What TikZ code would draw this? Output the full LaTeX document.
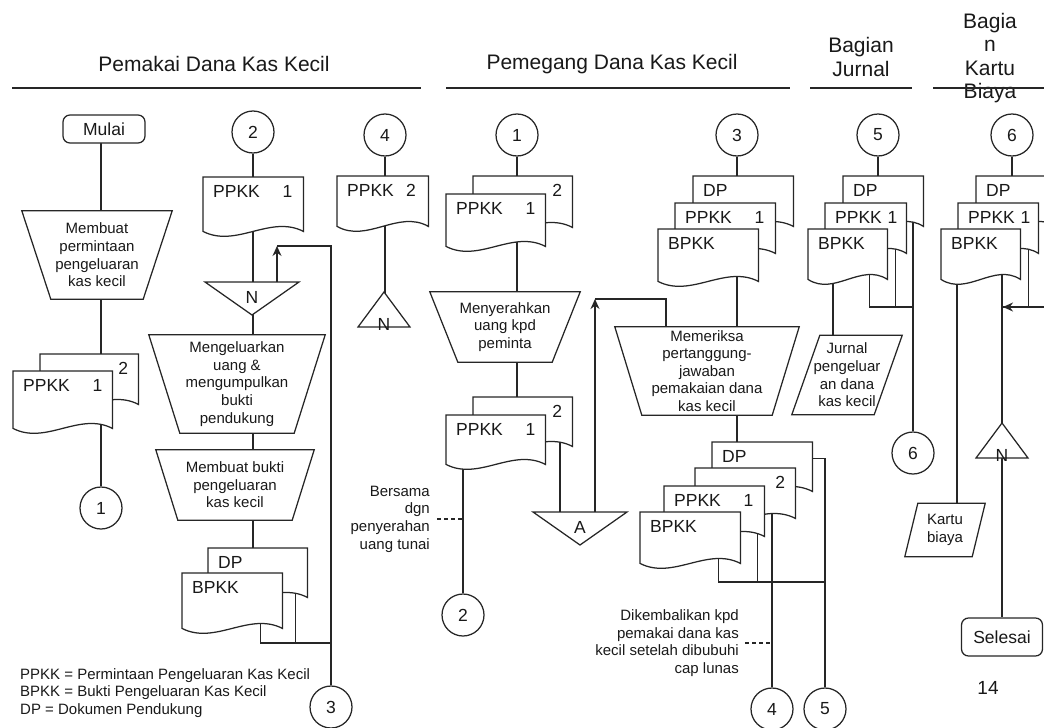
\documentclass[tikz,border=0pt]{standalone}
\usepackage{fontspec}
\setmainfont{Liberation Sans}
\usetikzlibrary{arrows.meta, calc, backgrounds}

\newcommand\fbody{\fontsize{15}{17.6}\selectfont}
\newcommand\fnote{\fontsize{15}{17.6}\selectfont}
\newcommand\fdoc{\fontsize{17.5}{20}\selectfont}
\newcommand\fhead{\fontsize{21}{23.5}\selectfont}

\begin{document}
\begin{tikzpicture}[
  x=1pt, y=-1pt, text=black!90,
  shapeline/.style={draw=black!85, line width=1.25pt, fill=white},
  wire/.style={draw=black!85, line width=1.25pt},
  arr/.style={wire, -{Stealth[length=10pt, width=9pt]}},
  guide/.style={wire, dash pattern=on 4pt off 3pt},
  headrule/.style={draw=black!85, line width=1.8pt},
  head/.style={font=\fhead, align=center, inner sep=0pt},
  note/.style={font=\fnote, align=right, anchor=east, inner sep=0pt},
  legend/.style={font=\fbody, align=left, anchor=west, inner sep=0pt},
  conn/.style={circle, draw=black!85, line width=1.25pt, fill=white, minimum size=42, inner sep=0pt, font=\fdoc},
  term/.style 2 args={rectangle, rounded corners=7, draw=black!85, line width=1.25pt, fill=white,
    minimum width=#1, minimum height=#2, inner sep=0pt, font=\fdoc},
  doc/.style n args={3}{anchor=north west, minimum width=#1, text width=#1-20, inner xsep=10, inner ysep=4,
    text height=16, text depth=#2-24, align=#3, font=\fdoc,
    append after command={\pgfextra{\draw[shapeline] (\tikzlastnode.north west) -- (\tikzlastnode.north east)
      -- (\tikzlastnode.south east)
      .. controls ($(\tikzlastnode.south east)!0.33!(\tikzlastnode.south west)+(0,-17)$)
      and ($(\tikzlastnode.south east)!0.67!(\tikzlastnode.south west)+(0,17)$)
      .. (\tikzlastnode.south west) -- cycle;}}},
  manop/.style n args={3}{minimum width=#1, minimum height=#2, inner sep=0pt, align=center, font=\fbody,
    append after command={\pgfextra{\draw[shapeline] (\tikzlastnode.north west) -- (\tikzlastnode.north east)
      -- ($(\tikzlastnode.south east)+(-#3,0)$) -- ($(\tikzlastnode.south west)+(#3,0)$) -- cycle;}}},
  dataio/.style n args={3}{minimum width=#1, minimum height=#2, inner sep=0pt, align=center, font=\fbody,
    append after command={\pgfextra{\draw[shapeline] (\tikzlastnode.south west) -- ($(\tikzlastnode.north west)+(#3,0)$)
      -- (\tikzlastnode.north east) -- ($(\tikzlastnode.south east)+(-#3,0)$) -- cycle;}}},
  mergetri/.style={inner sep=0pt, font=\fdoc,
    append after command={\pgfextra{\draw[shapeline] ($(\tikzlastnode.center)+(-47,-15)$)
      -- ($(\tikzlastnode.center)+(47,-15)$) -- ($(\tikzlastnode.center)+(0,18)$) -- cycle;}}},
  extract/.style={inner sep=0pt, font=\fdoc,
    append after command={\pgfextra{\draw[shapeline] ($(\tikzlastnode.center)+(0,-32)$)
      -- ($(\tikzlastnode.center)+(26,3)$) -- ($(\tikzlastnode.center)+(-26,3)$) -- cycle;}}},
]
\path[use as bounding box] (0,0) rectangle (1044,728);

% ---- headers
\node[head] (hpemakai) at (214,64) {Pemakai Dana Kas Kecil};
\node[head] (hpemegang) at (612,64) {Pemegang Dana Kas Kecil};
\node[head] (hjurnal) at (861,57) {Bagian\\Jurnal};
\node[head] (hbiaya) at (990,58) {Bagia\\n\\Kartu\\Biaya};
\draw[headrule] (12,88) -- (421,88);
\draw[headrule] (446,88) -- (790,88);
\draw[headrule] (810,88) -- (912,88);
\draw[headrule] (933,88) -- (1044,88);

% ---- pemakai dana kas kecil
\node[term={82}{28}] (mulai) at (104,129) {Mulai};
\node[manop={150}{88}{29}] (buatppkk) at (97,255) {Membuat\\permintaan\\pengeluaran\\kas kecil};
\node[doc={98}{50}{right}] (ppkkA2) at (40,354) {2};
\node[doc={99}{57}{left}] (ppkkA1) at (13,371) {\mbox{PPKK\hspace{1.3em}1}};
\node[conn] (c1a) at (101,508) {1};

\node[conn] (c2a) at (253,132) {2};
\node[doc={100}{54}{left}] (ppkkB) at (203,177) {\mbox{PPKK\hspace{1.3em}1}};
\node[mergetri] (nB) at (252,297) {N};
\node[manop={176}{98}{31}] (keluarkan) at (237,384) {Mengeluarkan\\uang \&\\mengumpulkan\\bukti\\pendukung};
\node[manop={158}{70}{22}] (buatbpkk) at (235,485) {Membuat bukti\\pengeluaran\\kas kecil};
\node[doc={99}{49}{left}] (dpB) at (208,548) {DP};
\node[doc={100}{55}{left}] (bpkkB) at (182,573) {BPKK};
\node[conn] (c3a) at (331,707) {3};
\node[legend] (legend) at (20,693) {PPKK = Permintaan Pengeluaran Kas Kecil\\BPKK = Bukti Pengeluaran Kas Kecil\\DP = Dokumen Pendukung};

\node[conn] (c4a) at (385,135) {4};
\node[doc={91}{50}{left}] (ppkkC) at (337,176) {\mbox{PPKK\hspace{0.7em}2}};
\node[extract] (nC) at (384,324) {N};

% ---- pemegang dana kas kecil
\node[conn] (c1b) at (517,135) {1};
\node[doc={99}{51}{right}] (ppkkD2) at (473,176) {2};
\node[doc={99}{52}{left}] (ppkkD1) at (446,194) {\mbox{PPKK\hspace{1.3em}1}};
\node[manop={150}{70}{28}] (serahkan) at (505,327) {Menyerahkan\\uang kpd\\peminta};
\node[doc={99}{49}{right}] (ppkkE2) at (473,397) {2};
\node[doc={99}{49}{left}] (ppkkE1) at (446,415) {\mbox{PPKK\hspace{1.3em}1}};
\node[mergetri] (aE) at (580,527) {A};
\node[conn] (c2b) at (463,615) {2};
\node[note] (noteE) at (430,519) {Bersama\\dgn\\penyerahan\\uang tunai};

\node[conn] (c3b) at (737,135) {3};
\node[doc={100}{50}{left}] (dpF) at (693,176) {DP};
\node[doc={100}{50}{left}] (ppkkF) at (675,203) {\mbox{PPKK\hspace{1.3em}1}};
\node[doc={100}{52}{left}] (bpkkF) at (658,229) {BPKK};
\node[manop={184}{88}{27}] (periksa) at (707,371) {Memeriksa\\pertanggung-\\jawaban\\pemakaian dana\\kas kecil};
\node[doc={100}{49}{left}] (dpG) at (712,442) {DP};
\node[doc={100}{50}{right}] (ppkkG2) at (695,468) {2};
\node[doc={100}{50}{left}] (ppkkG1) at (664,486) {\mbox{PPKK\hspace{1.3em}1}};
\node[doc={100}{51}{left}] (bpkkG) at (640,512) {BPKK};
\node[conn] (c4b) at (772,709) {4};
\node[conn] (c5b) at (825,709) {5};
\node[note] (noteG) at (739,643) {Dikembalikan kpd\\pemakai dana kas\\kecil setelah dibubuhi\\cap lunas};

% ---- bagian jurnal
\node[conn] (c5a) at (878,135) {5};
\node[doc={80}{50}{left}] (dpH) at (843,176) {DP};
\node[doc={81}{50}{left}] (ppkkH) at (825,203) {\mbox{PPKK 1}};
\node[doc={79}{50}{left}] (bpkkH) at (808,229) {BPKK};
\node[dataio={110}{79}{28}] (jurnal) at (847,375) {Jurnal\\pengeluar\\an dana\\kas kecil};
\node[conn] (c6a) at (913,453) {6};

% ---- bagian kartu biaya
\node[conn] (c6b) at (1012,135) {6};
\node[doc={80}{50}{left}] (dpI) at (976,176) {DP};
\node[doc={80}{50}{left}] (ppkkI) at (958,203) {\mbox{PPKK 1}};
\node[doc={79}{50}{left}] (bpkkI) at (941,229) {BPKK};
\node[extract] (nI) at (1002,455) {N};
\node[dataio={80}{53}{13}] (kartu) at (945,530) {Kartu\\biaya};
\node[term={81}{38}] (selesai) at (1002,637) {Selesai};
\node[font=\fontsize{19}{22}\selectfont] (hal) at (988,688) {14};

% ---- flow lines
\begin{scope}[on background layer]
\draw[wire] (c1a |- mulai.center) -- (c1a |- buatppkk.center);
\draw[wire] (c1a |- buatppkk.center) -- (c1a |- ppkkA2.center);
\draw[wire] (c1a |- ppkkA1.center) -- (c1a);

\coordinate (j3) at (331,643);
\coordinate (nloop) at (277,246);
\draw[wire] (c2a) -- (c2a |- nB.center);
\draw[wire] (c2a |- nB.center) -- (c2a |- keluarkan.center);
\draw[wire] (c2a |- keluarkan.center) -- (c2a |- buatbpkk.center);
\draw[wire] (c2a |- buatbpkk.center) -- (c2a |- dpB.center);
\draw[wire] ($(bpkkB.center)+(28,0)$) |- (j3);
\draw[wire] ($(dpB.center)+(37.5,0)$) |- (j3);
\draw[wire] (c3a) |- (nloop);
\draw[arr] ($(nB.center)+(25,-15)$) -- (nloop);

\draw[wire] (c4a) -- (c4a |- nC.center);

\coordinate (aIn) at ($(aE.center)+(-20,-15)$);
\coordinate (aOut) at ($(aE.center)+(15,-15)$);
\coordinate (aloop) at (595,299);
\draw[wire] (c1b) -- (c1b |- serahkan.center);
\draw[wire] (c1b |- serahkan.center) -- (c1b |- ppkkE2.center);
\draw[wire] (aIn |- ppkkE2.center) -- (aIn);
\draw[arr] (aOut) -- (aloop);
\draw[wire] (aloop) -| ($(periksa.north)+(-41,0)$);
\draw[wire] (c2b |- ppkkE1.center) -- (c2b);
\draw[guide] ($(noteE.east)+(7,0)$) -- (noteE.east -| c2b);

\coordinate (j45) at (825,582);
\draw[wire] (c3b) -- (c3b |- periksa.center);
\draw[wire] (c3b |- periksa.center) -- (c3b |- dpG.center);
\draw[wire] ($(bpkkG.center)+(28,0)$) |- (j45);
\draw[wire] ($(ppkkG1.center)+(43,0)$) |- (j45);
\draw[wire] (c4b |- ppkkG2.center) -- (c4b);
\draw[wire] ([yshift=8.5pt]dpG.east) -| (c5b);
\draw[guide] ($(noteG.east)+(6,0)$) -- (noteG.east -| c4b);

\coordinate (j6) at (913,307);
\coordinate (jIn) at ($(jurnal.north)+(-14,0)$);
\draw[wire] (c5a) -- (c5a |- dpH.center);
\draw[wire] (jIn |- bpkkH.center) -- (jIn);
\draw[wire] ($(bpkkH.center)+(21.5,0)$) |- (j6);
\draw[wire] ($(ppkkH.center)+(29.5,0)$) |- (j6);
\draw[wire] (c6a |- dpH.center) -- (c6a);

\coordinate (kIn) at ($(kartu.north)+(12,0)$);
\coordinate (bIn) at (1003,307);
\coordinate (edgeR) at (1044,307);
\draw[wire] (c6b) -- (c6b |- dpI.center);
\draw[wire] (kIn |- bpkkI.center) -- (kIn);
\draw[wire] (nI |- bpkkI.center) -- (nI.center);
\draw[wire] (nI.center) -- (selesai);
\draw[wire] ($(ppkkI.center)+(30,0)$) |- (bIn);
\draw[arr] (edgeR) -- (bIn);
\end{scope}
\end{tikzpicture}
\end{document}
